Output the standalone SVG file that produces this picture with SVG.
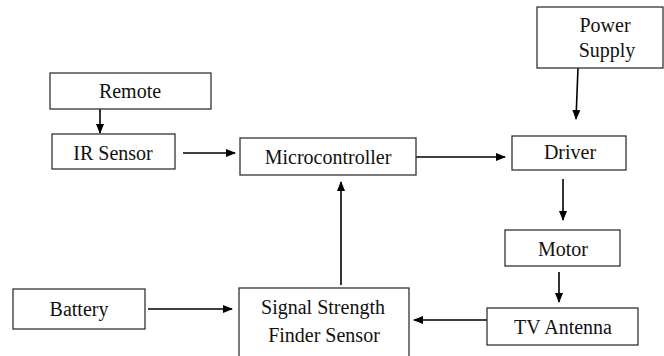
<svg xmlns="http://www.w3.org/2000/svg" width="664" height="356" viewBox="0 0 664 356">
  <defs>
    <marker id="arrow" markerWidth="10" markerHeight="10" refX="9" refY="5" orient="auto" markerUnits="userSpaceOnUse">
      <path d="M0,1 L10,5 L0,9 Z" fill="#000"/>
    </marker>
  </defs>
  <style>
    .box { fill: #fff; stroke: #333; stroke-width: 1.3; }
    .lbl { font-size: 20px; fill: #111; text-anchor: middle; }
    .edge { stroke: #000; stroke-width: 1.6; fill: none; marker-end: url(#arrow); }
  </style>
  <rect width="664" height="356" fill="#fff"/>

  <g id="connectors">
    <line class="edge" x1="100" y1="109" x2="100" y2="133"/>
    <line class="edge" x1="183" y1="153" x2="235" y2="153"/>
    <line class="edge" x1="416" y1="157" x2="505" y2="157"/>
    <line class="edge" x1="578" y1="68" x2="576" y2="119"/>
    <line class="edge" x1="563" y1="179" x2="563" y2="220"/>
    <line class="edge" x1="559" y1="272" x2="559" y2="302"/>
    <line class="edge" x1="487" y1="320" x2="414" y2="320"/>
    <line class="edge" x1="148" y1="309" x2="232" y2="309"/>
    <line class="edge" x1="341" y1="285" x2="341" y2="182"/>
  </g>

  <g font-family="Liberation Serif, DejaVu Serif, serif">
  <g id="remote">
    <rect class="box" x="50" y="73" width="161" height="36"/>
    <text class="lbl" x="130" y="98">Remote</text>
  </g>
  <g id="ir-sensor">
    <rect class="box" x="52" y="134" width="123" height="35"/>
    <text class="lbl" x="113" y="160">IR Sensor</text>
  </g>
  <g id="microcontroller">
    <rect class="box" x="240" y="138" width="176" height="37"/>
    <text class="lbl" x="328" y="164">Microcontroller</text>
  </g>
  <g id="power-supply">
    <rect class="box" x="537" y="7" width="126" height="61"/>
    <text class="lbl" x="605" y="32">Power</text>
    <text class="lbl" x="607" y="57">Supply</text>
  </g>
  <g id="driver">
    <rect class="box" x="512" y="136" width="114" height="34"/>
    <text class="lbl" x="570" y="159">Driver</text>
  </g>
  <g id="motor">
    <rect class="box" x="505" y="230" width="115" height="36"/>
    <text class="lbl" x="563" y="256">Motor</text>
  </g>
  <g id="tv-antenna">
    <rect class="box" x="487" y="308" width="151" height="37"/>
    <text class="lbl" x="563" y="334">TV Antenna</text>
  </g>
  <g id="battery">
    <rect class="box" x="13" y="289" width="132" height="40"/>
    <text class="lbl" x="79" y="316">Battery</text>
  </g>
  <g id="signal-sensor">
    <rect class="box" x="239" y="288" width="170" height="72"/>
    <text class="lbl" x="323" y="314">Signal Strength</text>
    <text class="lbl" x="324" y="342">Finder Sensor</text>
  </g>
  </g>
</svg>
